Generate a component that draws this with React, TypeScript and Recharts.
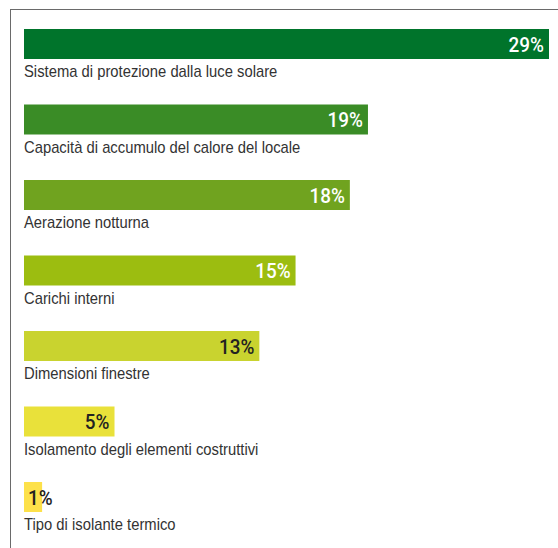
import React from 'react';
import { BarChart, Bar, XAxis, YAxis, Cell, LabelList } from 'recharts';

const categories = [
  'Sistema di protezione dalla luce solare',
  'Capacità di accumulo del calore del locale',
  'Aerazione notturna',
  'Carichi interni',
  'Dimensioni finestre',
  'Isolamento degli elementi costruttivi',
  'Tipo di isolante termico',
];
const values = [29, 19, 18, 15, 13, 5, 1];
const valueLabels = ['29%', '19%', '18%', '15%', '13%', '5%', '1%'];
const barColors = ['#00742b', '#3a8c26', '#70a31f', '#9cbd10', '#c9d32f', '#e9e13a', '#fde14a'];
const valueLabelColors = ['#ffffff', '#ffffff', '#ffffff', '#ffffff', '#222222', '#222222', '#222222'];

const data = categories.map((name, i) => ({
  name,
  value: values[i],
  label: valueLabels[i],
}));

const CAT_FONT = "'Liberation Sans', Arial, sans-serif";
const VAL_FONT = "Roboto, 'Liberation Sans', sans-serif";

const geom = (p: any) => {
  const vb = p.viewBox || {};
  return {
    x: Number(p.x ?? vb.x),
    y: Number(p.y ?? vb.y),
    width: Number(p.width ?? vb.width),
    height: Number(p.height ?? vb.height),
  };
};

const CategoryLabel = (p: any) => {
  const { x, y, height } = geom(p);
  return (
    <text
      transform={`translate(${x},${y + height + 18}) scale(0.925,1)`}
      x={0}
      y={0}
      fill="#333333"
      fontSize={16}
      fontFamily={CAT_FONT}
      textAnchor="start"
    >
      {p.value}
    </text>
  );
};

const ValueLabel = (p: any) => {
  const { x, y, width, height } = geom(p);
  const idx = p.index ?? 0;
  const text = String(p.value);
  const approx = text.length * 9.5 + 8;
  const small = width < approx;
  const tx = small ? x + 4 : x + width - 5;
  return (
    <text
      transform={`translate(${tx},${y + height / 2 + 7.5}) scale(0.9,1)`}
      x={0}
      y={0}
      fill={valueLabelColors[idx]}
      fontSize={21}
      fontWeight={500}
      fontFamily={VAL_FONT}
      textAnchor={small ? 'start' : 'end'}
    >
      {text}
    </text>
  );
};

export default function App() {
  return (
    <div style={{ position: 'absolute', left: 0, top: 0, width: 558, height: 548, overflow: 'hidden', background: '#fff' }}>
      <div
        style={{
          position: 'absolute',
          left: 10,
          top: 9,
          width: 600,
          height: 600,
          borderLeft: '1.5px solid #6a6a6a',
          borderTop: '1.5px solid #6a6a6a',
        }}
      />
      <div style={{ position: 'absolute', left: 0, top: 0 }}>
        <BarChart
          width={558}
          height={548}
          data={data}
          layout="vertical"
          margin={{ top: 6, right: 9, bottom: 13.5, left: 24 }}
        >
          <XAxis type="number" domain={[0, 29]} hide />
          <YAxis type="category" dataKey="name" hide />
          <Bar dataKey="value" barSize={30} isAnimationActive={false}>
            {data.map((d, i) => (
              <Cell key={d.name} fill={barColors[i]} />
            ))}
            <LabelList dataKey="name" content={CategoryLabel} />
            <LabelList dataKey="label" content={ValueLabel} />
          </Bar>
        </BarChart>
      </div>
    </div>
  );
}
